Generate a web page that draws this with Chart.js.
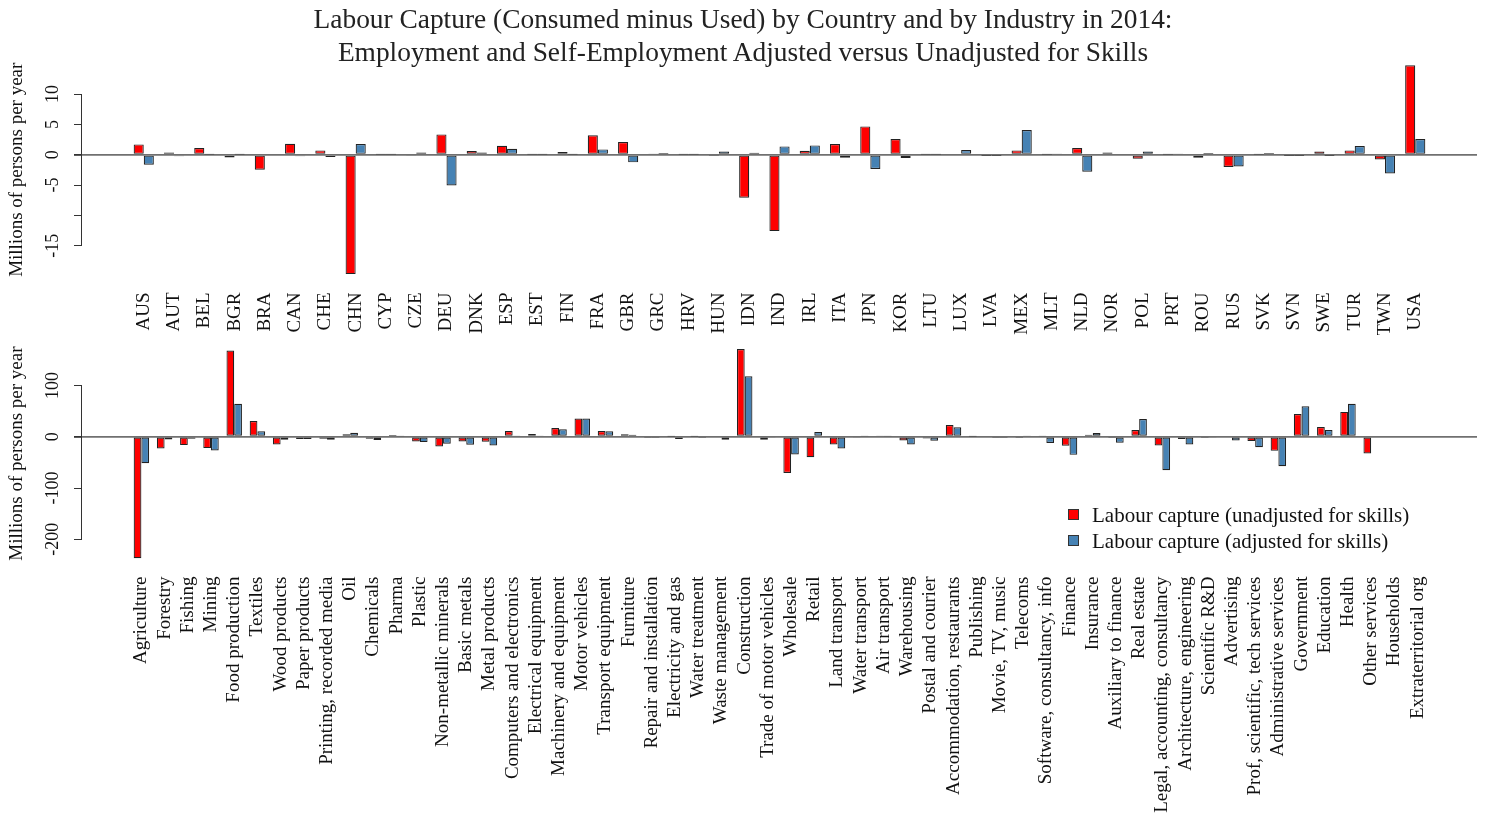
<!DOCTYPE html>
<html>
<head>
<meta charset="utf-8">
<script src="https://cdn.jsdelivr.net/npm/chart.js@4.4.1/dist/chart.umd.min.js"></script>
<style>
  body { margin:0; background:#fff; width:1486px; height:819px; overflow:hidden; position:relative; font-family:'Liberation Serif', serif; color:#111; }
  .wrap { position:absolute; left:0; width:1486px; }
  #title { position:absolute; left:0; top:3px; width:1486px; text-align:center; font-size:27.4px; line-height:33px; color:#222; z-index:2; }
  #legend { position:absolute; left:1068px; top:502px; font-size:21px; line-height:26px; z-index:2; }
  #legend .sw { display:inline-block; width:9px; height:9px; border:1px solid #333; margin-right:13px; vertical-align:2px; }
</style>
</head>
<body>
<div id="title">Labour Capture (Consumed minus Used) by Country and by Industry in 2014:<br>Employment and Self-Employment Adjusted versus Unadjusted for Skills</div>
<div class="wrap" style="top:0;height:335px"><canvas id="chartTop"></canvas></div>
<div class="wrap" style="top:290px;height:529px"><canvas id="chartBottom"></canvas></div>
<div id="legend"></div>
<script>
const seriesNames = ['Labour capture (unadjusted for skills)', 'Labour capture (adjusted for skills)'];
const seriesColors = ['#FF0000', '#4682B4'];

const countries = ['AUS','AUT','BEL','BGR','BRA','CAN','CHE','CHN','CYP','CZE','DEU','DNK','ESP','EST','FIN','FRA','GBR','GRC','HRV','HUN','IDN','IND','IRL','ITA','JPN','KOR','LTU','LUX','LVA','MEX','MLT','NLD','NOR','POL','PRT','ROU','RUS','SVK','SVN','SWE','TUR','TWN','USA'];
const countryUnadjusted = [1.7, 0.38, 1.1, -0.44, -2.47, 1.8, 0.71, -19.67, 0.02, -0.22, 3.35, 0.6, 1.48, 0.02, 0.44, 3.19, 2.09, 0.22, 0.02, -0.1, -7.09, -12.58, 0.66, 1.76, 4.67, 2.58, 0.02, 0.16, -0.05, 0.71, 0.05, 1.1, 0.38, -0.66, 0.05, -0.5, -2.03, 0.02, -0.05, 0.55, 0.71, -0.77, 14.73];
const countryAdjusted = [-1.65, -0.27, 0.05, 0.02, 0.16, -0.27, -0.38, 1.76, 0.02, 0.38, -5.05, 0.38, 0.99, 0.02, 0.05, 0.88, -1.26, 0.27, 0.02, 0.55, 0.33, 1.37, 1.54, -0.5, -2.36, -0.55, 0.02, 0.77, -0.05, 4.07, 0.1, -2.8, -0.16, 0.55, 0.22, 0.27, -1.92, 0.27, -0.05, -0.05, 1.43, -3.08, 2.58];
const countryTicks = [10, 5, 0, -5, -10, -15];
const countryTickLabels = ['10', '5', '0', '-5', '', '-15'];

const industries = ['Agriculture','Forestry','Fishing','Mining','Food production','Textiles','Wood products','Paper products','Printing, recorded media','Oil','Chemicals','Pharma','Plastic','Non-metallic minerals','Basic metals','Metal products','Computers and electronics','Electrical equipment','Machinery and equipment','Motor vehicles','Transport equipment','Furniture','Repair and installation','Electricity and gas','Water treatment','Waste management','Construction','Trade of motor vehicles','Wholesale','Retail','Land transport','Water transport','Air transport','Warehousing','Postal and courier','Accommodation, restaurants','Publishing','Movie, TV, music','Telecoms','Software, consultancy, info','Finance','Insurance','Auxiliary to finance','Real estate','Legal, accounting, consultancy','Architecture, engineering','Scientific R&D','Advertising','Prof, scientific, tech services','Administrative services','Government','Education','Health','Other services','Households','Extraterritorial org'];
const industryUnadjusted = [-236.6, -22.9, -16.3, -22.2, 168, 30.7, -15, -4.6, -3.9, 4.6, -3.9, 3.3, -9.2, -19, -9.2, -9.8, 11.1, 5.2, 17, 35.3, 11.1, 4.6, -0.7, 0.3, 0.2, -1.3, 171, -5.9, -70.6, -39.9, -15, -2, 1.3, -7.2, -3.3, 22.9, 0.3, -0.5, -0.7, 0.7, -17.6, 3.9, -0.7, 13.1, -17, -4.6, -0.7, -1.3, -8.5, -27.5, 44.4, 19, 48.4, -32.7, 0, 0];
const industryAdjusted = [-51.6, -5.2, -3.9, -26.8, 64, 10.5, -5.9, -4.6, -5.9, 7.8, -6.5, 0.7, -10.5, -13.7, -15.7, -17, 1.3, 2.6, 14.4, 35.3, 10.5, 3.9, -2.6, -4.6, -0.5, -5.9, 117.6, -2, -34.6, 9.2, -22.9, 0.7, 0.7, -15, -7.8, 18.3, -1.5, -0.5, 1.3, -12, -35.3, 7.2, -11.8, 34.6, -65.4, -15, -1, -7.2, -20.3, -57.5, 59.5, 13.1, 64, 2, 0, 0];
const industryTicks = [100, 0, -100, -200];
const industryTickLabels = ['100', '0', '-100', '-200'];

const FONT = 'Liberation Serif';

// R-style axis: line only between first and last tick
const axisLine = {
  id: 'axisLine',
  afterDraw(chart) {
    const s = chart.scales.y, t = s.ticks, ctx = chart.ctx;
    ctx.save();
    ctx.strokeStyle = '#333'; ctx.lineWidth = 1;
    ctx.beginPath();
    ctx.moveTo(s.right - 0.5, s.getPixelForValue(t[0].value));
    ctx.lineTo(s.right - 0.5, s.getPixelForValue(t[t.length - 1].value));
    ctx.stroke();
    ctx.restore();
  }
};

function barChart(id, labels, a, b, yTicks, yTickLabels, o) {
  const datasets = [a, b].map((vals, k) => ({
    label: seriesNames[k],
    data: vals.map((v, i) => ({ x: i, y: v })),
    backgroundColor: seriesColors[k],
    borderColor: '#222',
    borderWidth: 1.2,
    borderSkipped: false,
    categoryPercentage: 2 / 3,
    barPercentage: 1
  }));
  return new Chart(document.getElementById(id), {
    type: 'bar',
    data: { datasets },
    plugins: [axisLine],
    options: {
      responsive: true, maintainAspectRatio: false, animation: false, devicePixelRatio: 1,
      layout: { padding: { top: o.padTop, right: 9, left: 0, bottom: 0 } },
      plugins: { legend: { display: false }, tooltip: { enabled: false } },
      scales: {
        x: {
          type: 'linear', min: o.xMin, max: labels.length - 1 - o.xMin, offset: false, bounds: 'data',
          grid: { display: false, drawTicks: false }, border: { display: false },
          afterBuildTicks: s => { s.ticks = labels.map((_, i) => ({ value: i })); },
          afterFit: s => { s.height = o.xHeight; },
          ticks: { autoSkip: false, minRotation: 90, maxRotation: 90, padding: 10, color: '#111',
            font: { family: FONT, size: 19 }, callback: v => labels[v] }
        },
        y: {
          min: o.yMin, max: o.yMax, bounds: 'data',
          afterBuildTicks: s => { s.ticks = yTicks.map(v => ({ value: v })); },
          afterFit: s => { s.width = 82; },
          border: { display: false },
          grid: {
            drawTicks: true, tickLength: 8, tickColor: '#333',
            color: c => (c.tick && c.tick.value === 0) ? '#707070' : 'rgba(0,0,0,0)',
            lineWidth: c => (c.tick && c.tick.value === 0) ? 1.8 : 1
          },
          ticks: { minRotation: 90, maxRotation: 90, crossAlign: 'center', padding: o.tickPad, color: '#111',
            font: { family: FONT, size: 18 }, callback: v => yTickLabels[yTicks.indexOf(v)] },
          title: { display: true, text: 'Millions of persons per year', color: '#111',
            font: { family: FONT, size: 19 }, padding: { top: 6, bottom: 0 } }
        }
      }
    }
  });
}

barChart('chartTop', countries, countryUnadjusted, countryAdjusted, countryTicks, countryTickLabels,
  { padTop: 57, xHeight: 52.5, xMin: -2.04, yMin: -21.05, yMax: 16.1, tickPad: 9 });
barChart('chartBottom', industries, industryUnadjusted, industryAdjusted, industryTicks, industryTickLabels,
  { padTop: 50.6, xHeight: 252.5, xMin: -2.56, yMin: -252.9, yMax: 187.3, tickPad: 4.5 });

// legend
const legend = document.getElementById('legend');
seriesNames.forEach((name, k) => {
  const row = document.createElement('div');
  row.innerHTML = `<span class="sw" style="background:${seriesColors[k]}"></span>${name}`;
  legend.appendChild(row);
});
</script>
</body>
</html>
